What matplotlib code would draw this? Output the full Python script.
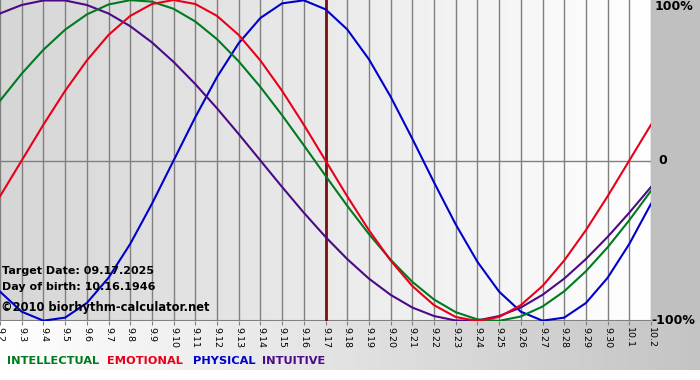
import numpy as np
import matplotlib
matplotlib.use("Agg")
import matplotlib.pyplot as plt
from matplotlib.colors import LinearSegmentedColormap

# ---- data (daily biorhythm values, 9.2 .. 10.2) ----
dates = ["9.2", "9.3", "9.4", "9.5", "9.6", "9.7", "9.8", "9.9", "9.10", "9.11",
         "9.12", "9.13", "9.14", "9.15", "9.16", "9.17", "9.18", "9.19", "9.20",
         "9.21", "9.22", "9.23", "9.24", "9.25", "9.26", "9.27", "9.28", "9.29",
         "9.30", "10.1", "10.2"]
physical = [-0.817, -0.942, -0.998, -0.979, -0.888, -0.731, -0.520, -0.270, 0.000,
            0.270, 0.520, 0.731, 0.888, 0.979, 0.998, 0.942, 0.817, 0.631, 0.398,
            0.136, -0.136, -0.398, -0.631, -0.817, -0.942, -0.998, -0.979, -0.888,
            -0.731, -0.520, -0.270]
emotional = [-0.223, 0.000, 0.223, 0.434, 0.623, 0.782, 0.901, 0.975, 1.000, 0.975,
             0.901, 0.782, 0.623, 0.434, 0.223, 0.000, -0.223, -0.434, -0.623,
             -0.782, -0.901, -0.975, -1.000, -0.975, -0.901, -0.782, -0.623,
             -0.434, -0.223, 0.000, 0.223]
intellectual = [0.372, 0.541, 0.690, 0.815, 0.910, 0.972, 0.999, 0.990, 0.945,
                0.866, 0.756, 0.618, 0.458, 0.282, 0.095, -0.095, -0.282, -0.458,
                -0.618, -0.756, -0.866, -0.945, -0.990, -0.999, -0.972, -0.910,
                -0.815, -0.690, -0.541, -0.372, -0.189]
intuitive = [0.916, 0.969, 0.997, 0.997, 0.969, 0.916, 0.837, 0.736, 0.614, 0.476,
             0.325, 0.165, 0.000, -0.165, -0.325, -0.476, -0.614, -0.736, -0.837,
             -0.916, -0.969, -0.997, -0.997, -0.969, -0.916, -0.837, -0.736,
             -0.614, -0.476, -0.325, -0.165]
target_label = "9.17"
y_labels = ["100%", "0", "-100%"]
legend_names = ["INTELLECTUAL", "EMOTIONAL", "PHYSICAL", "INTUITIVE"]

C_INT = "#007a1e"
C_EMO = "#e8001a"
C_PHY = "#0000cc"
C_ITU = "#4b0a86"

W, H = 700, 380
fig = plt.figure(figsize=(7, 3.8), dpi=100)
fig.patch.set_facecolor("white")

# background layer in pixel coordinates
bg = fig.add_axes([0, 0, 1, 1])
bg.set_xlim(0, W)
bg.set_ylim(H, 0)
bg.axis("off")
grad_cmap = LinearSegmentedColormap.from_list("g", ["#ffffff", "#c4c4c4"])
g = np.linspace(0, 1, 256).reshape(1, -1)
bg.imshow(g, extent=(0, W, 370, 321), aspect="auto", cmap=grad_cmap, zorder=0)
bg.add_patch(plt.Rectangle((651, 0), 49, 321, color="#c0c0c0", zorder=1, lw=0))

# plot area
ax = fig.add_axes([0, (H - 321) / H, 651 / W, 321 / H])
x = np.arange(len(dates))
ax.set_xlim(0, len(dates) - 1)
ax.set_ylim(-1.0, 1.0)
plot_cmap = LinearSegmentedColormap.from_list("p", ["#d6d6d6", "#ffffff"])
ax.imshow(g, extent=(0, len(dates) - 1, -1, 1), aspect="auto", cmap=plot_cmap, zorder=0)

for xi in x:
    ax.axvline(xi, color="#808080", lw=1.0, zorder=1)
ax.axhline(0, color="#808080", lw=1.0, zorder=1)
ax.axhline(-1.0, color="#808080", lw=1.5, zorder=1)

ax.axvline(dates.index(target_label), color="#7a1010", lw=2.0, zorder=2)

ax.plot(x, physical, color=C_PHY, lw=1.5, zorder=3)
ax.plot(x, intuitive, color=C_ITU, lw=1.5, zorder=3)
ax.plot(x, intellectual, color=C_INT, lw=1.5, zorder=3)
ax.plot(x, emotional, color=C_EMO, lw=1.5, zorder=3)

for s in ax.spines.values():
    s.set_visible(False)
ax.set_xticks(x)
ax.set_xticklabels(dates, rotation=-90, fontsize=6.8, family="DejaVu Sans",
                   va="top", ha="center")
ax.tick_params(axis="x", length=3, color="#808080", pad=1)
ax.set_yticks([])

# overlay layer for texts
ov = fig.add_axes([0, 0, 1, 1])
ov.set_xlim(0, W)
ov.set_ylim(H, 0)
ov.axis("off")
ov.patch.set_alpha(0)

txt_kw = dict(fontsize=8.0, fontweight="bold", family="DejaVu Sans", color="black",
              va="center", ha="left")
ov.text(2, 271, "Target Date: 09.17.2025", **txt_kw)
ov.text(2, 287, "Day of birth: 10.16.1946", **txt_kw)
ov.text(1, 307, "\u00a92010 biorhythm-calculator.net", fontsize=8.3,
        fontweight="bold", family="DejaVu Sans", color="black", va="center", ha="left")

# right labels
rk = dict(fontsize=9.0, fontweight="bold", family="DejaVu Sans", color="black",
          va="center", ha="left")
ov.text(655, 6, y_labels[0], **rk)
ov.text(658, 161, y_labels[1], **rk)
ov.text(651, 321, y_labels[2], **rk)

# legend
lk = dict(fontsize=8.2, fontweight="bold", family="DejaVu Sans", va="center",
          ha="left")
leg_x = [7, 107, 193, 262]
leg_c = [C_INT, C_EMO, C_PHY, C_ITU]
for name, lx, lc in zip(legend_names, leg_x, leg_c):
    ov.text(lx, 361, name, color=lc, **lk)

fig.savefig("out.png", dpi=100)
